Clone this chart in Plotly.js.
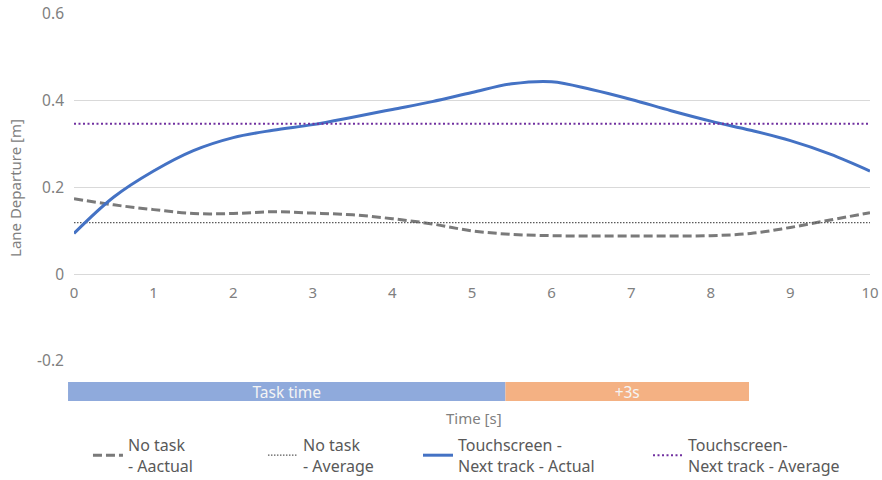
<!DOCTYPE html>
<html>
<head>
<meta charset="utf-8">
<script src="https://cdn.plot.ly/plotly-3.0.1.min.js"></script>
<style>html,body{margin:0;padding:0;background:#fff;}#chart{width:882px;height:480px;}</style>
</head>
<body>
<div id="chart"></div>
<script>
// ---- data ----
var timeS = [0, 0.5, 1, 1.5, 2, 2.5, 3, 3.5, 4, 4.5, 5, 5.5, 6, 6.5, 7, 7.5, 8, 8.5, 9, 9.5, 10];
var noTaskActual = [0.174, 0.160, 0.149, 0.140, 0.140, 0.144, 0.141, 0.137, 0.128, 0.116, 0.100, 0.092, 0.089, 0.088, 0.088, 0.088, 0.089, 0.094, 0.108, 0.125, 0.142];
var touchActual = [0.094, 0.178, 0.238, 0.285, 0.315, 0.332, 0.345, 0.362, 0.380, 0.398, 0.419, 0.439, 0.444, 0.426, 0.403, 0.377, 0.353, 0.332, 0.308, 0.277, 0.238];
var noTaskAverage = 0.119;
var touchAverage = 0.347;
var avgTimes = [0, 10];

var seriesNames = ['No task<br>- Aactual', 'No task<br>- Average', 'Touchscreen -<br>Next track - Actual', 'Touchscreen-<br>Next track - Average'];

var phaseLabels = ['Task time', '+3s'];
var phaseStart = [-0.075, 5.42];
var phaseEnd = [5.42, 8.48];

var yTickVals = [-0.2, 0, 0.2, 0.4, 0.6];
var yTickText = ['-0.2', '0', '0.2', '0.4', '0.6'];
var xTickVals = [0, 1, 2, 3, 4, 5, 6, 7, 8, 9, 10];

// ---- chart ----
var FONT = 'Noto Sans, Open Sans, sans-serif';
var gray = '#808080';

var traces = [
  {x: timeS, y: noTaskActual, type: 'scatter', mode: 'lines', name: seriesNames[0], legend: 'legend',
   line: {color: '#7a7a7a', width: 3, dash: '9px,4px', shape: 'spline'}},
  {x: avgTimes, y: avgTimes.map(function(){return noTaskAverage;}), type: 'scatter', mode: 'lines', name: seriesNames[1], legend: 'legend2',
   line: {color: '#5a5a5a', width: 1.2, dash: '1.5px,1.5px'}},
  {x: timeS, y: touchActual, type: 'scatter', mode: 'lines', name: seriesNames[2], legend: 'legend3',
   line: {color: '#4472C4', width: 3, shape: 'spline'}},
  {x: avgTimes, y: avgTimes.map(function(){return touchAverage;}), type: 'scatter', mode: 'lines', name: seriesNames[3], legend: 'legend4',
   line: {color: '#7030A0', width: 2, dash: '2px,2.5px'}},
  {type: 'bar', orientation: 'h', xaxis: 'x2', yaxis: 'y2',
   y: phaseLabels.map(function(){return 0;}),
   base: phaseStart,
   x: phaseEnd.map(function(e, i){return e - phaseStart[i];}),
   width: 1,
   marker: {color: ['#8FAADC', '#F4B183'], line: {width: 0}},
   text: phaseLabels, textposition: 'inside', insidetextanchor: 'middle', constraintext: 'none',
   textfont: {family: FONT, size: 15.5, color: '#f4f4f4'},
   showlegend: false, hoverinfo: 'skip'}
];

var legendBase = {orientation: 'v', yanchor: 'top', xanchor: 'left', y: -0.0695,
  font: {family: FONT, size: 16, color: '#595959'}, bgcolor: 'rgba(0,0,0,0)', borderwidth: 0, valign: 'middle'};
function lg(x) { var o = JSON.parse(JSON.stringify(legendBase)); o.x = x; return o; }

var layout = {
  width: 882, height: 480,
  margin: {l: 68, r: 12, t: 14, b: 79, autoexpand: false},
  paper_bgcolor: '#fff', plot_bgcolor: '#fff',
  font: {family: FONT, color: gray},
  showlegend: true,
  xaxis: {domain: [6/802, 1], range: [0, 10], anchor: 'free', position: 0.3276,
    tickvals: xTickVals, showgrid: false, zeroline: false, showline: false, ticks: '',
    ticklabelstandoff: 8, automargin: false,
    tickfont: {family: FONT, size: 15, color: gray}, fixedrange: true},
  yaxis: {domain: [40/387, 1], range: [-0.2, 0.6], tickvals: yTickVals, ticktext: yTickText,
    showgrid: true, gridcolor: '#d9d9d9', gridwidth: 1, zeroline: false, showline: false, ticks: '',
    automargin: false, ticklabelstandoff: 9,
    tickfont: {family: FONT, size: 15.5, color: gray}, fixedrange: true},
  xaxis2: {domain: [0, 1], range: [-0.0754, 10], anchor: 'y2', visible: false, fixedrange: true},
  yaxis2: {domain: [0, 19/387], range: [-0.5, 0.5], anchor: 'x2', visible: false, fixedrange: true},
  legend: lg(0.0249), legend2: lg(0.2431), legend3: lg(0.4364), legend4: lg(0.7232),
  annotations: [
    {text: 'Time [s]', xref: 'paper', yref: 'paper', x: 0.506, y: -0.0439, showarrow: false,
     font: {family: FONT, size: 15, color: gray}, xanchor: 'center', yanchor: 'middle'},
    {text: 'Lane Departure [m]', xref: 'paper', yref: 'paper', x: -0.0661, y: 0.5504, showarrow: false,
     textangle: -90, font: {family: FONT, size: 15, color: gray}, xanchor: 'center', yanchor: 'middle'}
  ]
};

Plotly.newPlot('chart', traces, layout, {displayModeBar: false, staticPlot: true});
</script>
</body>
</html>
